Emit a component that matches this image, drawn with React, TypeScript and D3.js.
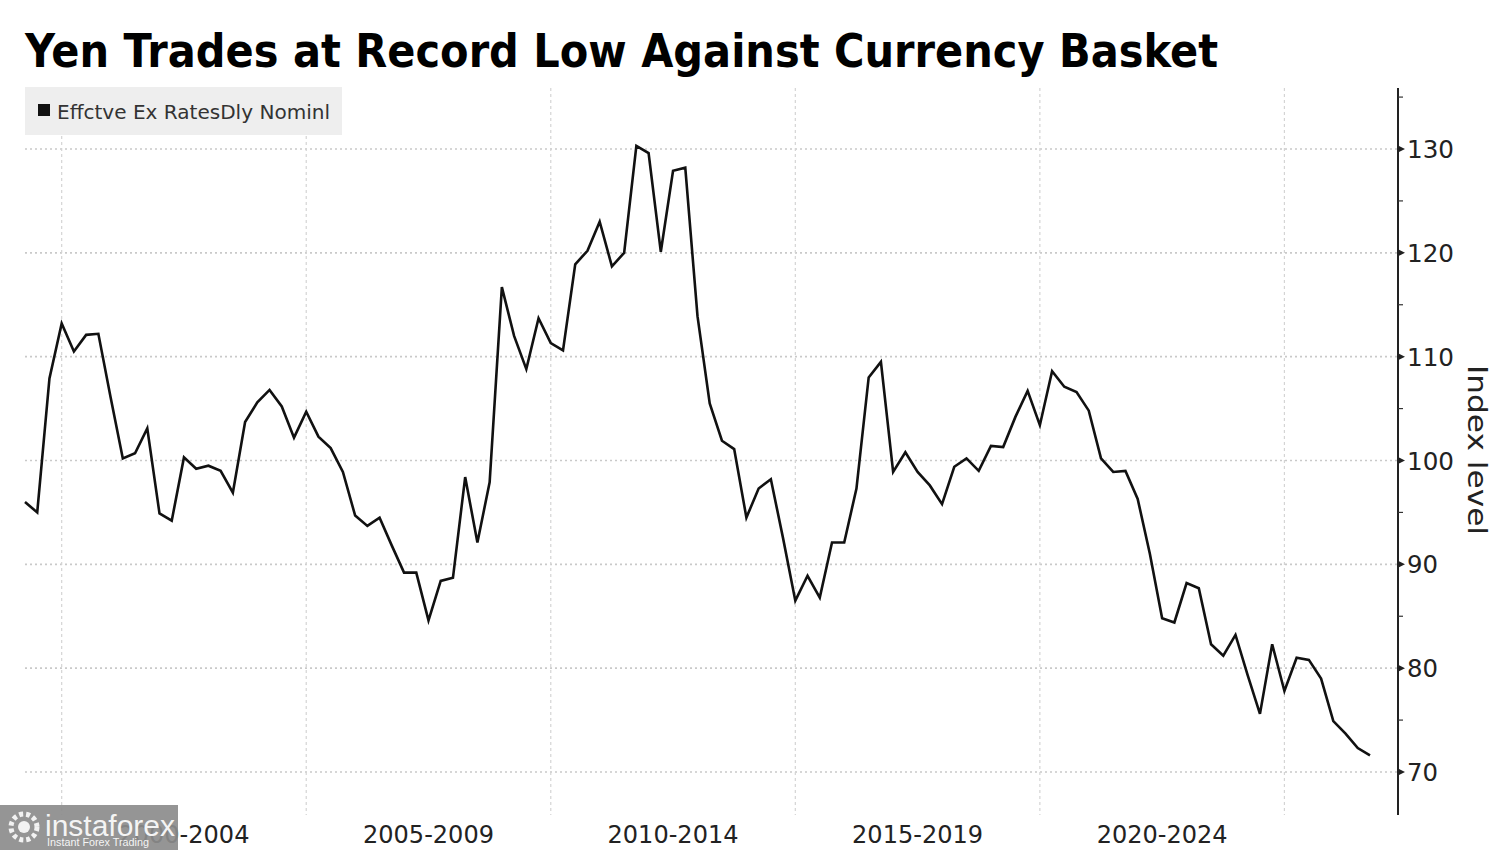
import React from "react";
import * as d3 from "d3";

// Quarterly readings, first point at 1999 Q2 (1999.25)
const startYear = 1999.25;
const step = 0.25;
const values: number[] = [
  96.0, 95.0, 107.9, 113.2, 110.5, 112.1, 112.2, 106.1, 100.2, 100.7,
  103.1, 94.9, 94.2, 100.3, 99.2, 99.5, 99.0, 96.9, 103.7, 105.6,
  106.8, 105.2, 102.2, 104.7, 102.3, 101.2, 98.9, 94.7, 93.7, 94.5,
  91.8, 89.2, 89.2, 84.6, 88.4, 88.7, 98.4, 92.1, 97.9, 116.7,
  112.0, 108.8, 113.7, 111.3, 110.6, 118.9, 120.2, 123.0, 118.7, 120.0,
  130.3, 129.6, 120.1, 127.9, 128.2, 113.9, 105.5, 101.9, 101.1, 94.5,
  97.3, 98.2, 92.5, 86.5, 88.9, 86.8, 92.1, 92.1, 97.3, 108.0,
  109.5, 98.9, 100.8, 98.9, 97.6, 95.8, 99.4, 100.2, 99.0, 101.4,
  101.3, 104.2, 106.7, 103.4, 108.6, 107.1, 106.6, 104.8, 100.2, 98.9,
  99.0, 96.3, 91.0, 84.8, 84.4, 88.2, 87.7, 82.3, 81.2, 83.2,
  79.3, 75.6, 82.3, 77.8, 81.0, 80.8, 79.0, 74.9, 73.7, 72.3,
  71.6,
];

const gridYears: number[] = [2000, 2005, 2010, 2015, 2020, 2025];
const periodLabels: string[] = ["2000-2004", "2005-2009", "2010-2014", "2015-2019", "2020-2024"];
const yTicks: number[] = [70, 80, 90, 100, 110, 120, 130];
const yMinorTicks: number[] = [75, 85, 95, 105, 115, 125, 135];

const title = "Yen Trades at Record Low Against Currency Basket";
const legendLabel = "Effctve Ex RatesDly Nominl";
const axisTitle = "Index level";

const W = 1500;
const H = 850;

export default function App() {
  const x = d3.scaleLinear().domain([1999.25, 2026.75]).range([25, 1370]);
  const y = d3.scaleLinear().domain([70, 130]).range([772, 149]);
  const axisX = 1398;
  const plotLeft = 25;
  const plotTop = 88;
  const plotBottom = 815;

  const pts: [number, number][] = values.map((v, i) => [startYear + i * step, v]);
  const line = d3
    .line<[number, number]>()
    .x((d) => x(d[0]))
    .y((d) => y(d[1]));

  const font = "'DejaVu Sans', Verdana, sans-serif";

  return (
    <div style={{ position: "absolute", left: 0, top: 0 }}>
      <svg width={W} height={H} viewBox={`0 0 ${W} ${H}`} style={{ display: "block", background: "#fff" }}>
        <rect x={0} y={0} width={W} height={H} fill="#ffffff" />

        {/* horizontal dotted gridlines */}
        {yTicks.map((t) => (
          <line
            key={"h" + t}
            x1={plotLeft}
            x2={axisX}
            y1={y(t)}
            y2={y(t)}
            stroke="#c9c9c9"
            strokeWidth={1.6}
            strokeDasharray="2,3"
          />
        ))}

        {/* vertical dashed gridlines */}
        {gridYears.map((g) => (
          <line
            key={"v" + g}
            x1={x(g)}
            x2={x(g)}
            y1={plotTop}
            y2={plotBottom}
            stroke="#d4d4d4"
            strokeWidth={1.2}
            strokeDasharray="3,3"
          />
        ))}

        {/* legend box */}
        <rect x={25} y={87} width={317} height={48} fill="#eeeeee" />
        <rect x={38} y={104} width={12} height={12} fill="#111" />
        <text
          x={57}
          y={119}
          fontFamily={font}
          fontSize={20}
          fill="#333"
          textLength={273}
          lengthAdjust="spacingAndGlyphs"
        >
          {legendLabel}
        </text>

        {/* title */}
        <text
          x={25}
          y={67}
          fontFamily={font}
          fontWeight="bold"
          fontSize={46}
          fill="#000"
          textLength={1193}
          lengthAdjust="spacingAndGlyphs"
        >
          {title}
        </text>

        {/* data line */}
        <path d={line(pts) || ""} fill="none" stroke="#111" strokeWidth={2.6} strokeLinejoin="miter" />

        {/* right axis */}
        <line x1={axisX} x2={axisX} y1={plotTop} y2={plotBottom} stroke="#222" strokeWidth={2} />
        {yMinorTicks.map((t) => (
          <line key={"m" + t} x1={axisX} x2={axisX + 5} y1={y(t)} y2={y(t)} stroke="#333" strokeWidth={1.2} />
        ))}
        {yTicks.map((t) => (
          <g key={"t" + t}>
            <path
              d={`M${axisX},${y(t) - 3.5} L${axisX + 7},${y(t)} L${axisX},${y(t) + 3.5} Z`}
              fill="#222"
            />
            <text
              x={axisX + 9}
              y={y(t) + 9}
              fontFamily={font}
              fontSize={25}
              fill="#222"
              textLength={t >= 100 ? 47 : 31}
              lengthAdjust="spacingAndGlyphs"
            >
              {t}
            </text>
          </g>
        ))}
        <text
          transform={`translate(1468,450) rotate(90)`}
          textAnchor="middle"
          fontFamily={font}
          fontSize={26}
          fill="#222"
          textLength={170}
          lengthAdjust="spacingAndGlyphs"
        >
          {axisTitle}
        </text>

        {/* x period labels */}
        {periodLabels.map((lab, i) => (
          <text
            key={lab}
            x={(x(gridYears[i]) + x(gridYears[i + 1])) / 2}
            y={843}
            textAnchor="middle"
            fontFamily={font}
            fontSize={25}
            fill="#222"
            textLength={131}
            lengthAdjust="spacingAndGlyphs"
          >
            {lab}
          </text>
        ))}

        {/* watermark */}
        <rect x={0} y={805} width={178} height={45} fill="#8c8c8c" opacity={0.92} />
        <g transform="translate(24,827)" fill="#f2f2f2">
          <circle r={13} fill="none" stroke="#f2f2f2" strokeWidth={5} strokeDasharray="4,3" />
          <circle r={6} />
        </g>
        <text x={45} y={836} fontFamily="'Liberation Sans', Arial, sans-serif" fontSize={30} fill="#f4f4f4" textLength={130} lengthAdjust="spacingAndGlyphs">
          instaforex
        </text>
        <text x={47} y={846} fontFamily="'Liberation Sans', Arial, sans-serif" fontSize={10} fill="#f4f4f4" textLength={102} lengthAdjust="spacingAndGlyphs">
          Instant Forex Trading
        </text>
      </svg>
    </div>
  );
}
